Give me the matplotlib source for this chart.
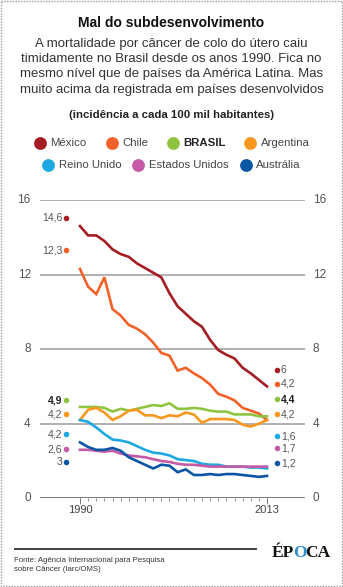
import numpy as np
import matplotlib.pyplot as plt
from matplotlib.patches import Rectangle

plt.rcParams['font.family'] = ['Liberation Sans', 'DejaVu Sans']

years = np.arange(1990, 2014)

mexico = [14.6, 14.1, 14.1, 13.8, 13.35, 13.1, 12.95, 12.6, 12.35, 12.1, 11.85, 11.0,
          10.3, 9.9, 9.5, 9.2, 8.5, 7.95, 7.7, 7.5, 7.0, 6.7, 6.35, 6.0]
chile = [12.3, 11.35, 10.95, 11.85, 10.15, 9.8, 9.3, 9.1, 8.8, 8.35, 7.8, 7.65,
         6.85, 7.0, 6.7, 6.45, 6.1, 5.6, 5.45, 5.25, 4.85, 4.7, 4.55, 4.2]
brasil = [4.9, 4.9, 4.9, 4.85, 4.65, 4.8, 4.7, 4.8, 4.9, 5.0, 4.95, 5.1,
          4.8, 4.8, 4.85, 4.8, 4.7, 4.65, 4.65, 4.5, 4.5, 4.5, 4.4, 4.4]
argentina = [4.2, 4.75, 4.85, 4.6, 4.2, 4.4, 4.7, 4.75, 4.45, 4.45, 4.3, 4.45,
             4.4, 4.6, 4.5, 4.05, 4.25, 4.25, 4.25, 4.2, 3.95, 3.85, 4.0, 4.2]
reino_unido = [4.2, 4.1, 3.8, 3.45, 3.15, 3.1, 3.0, 2.8, 2.6, 2.45, 2.4, 2.3,
               2.1, 2.05, 2.0, 1.85, 1.8, 1.8, 1.7, 1.7, 1.7, 1.65, 1.65, 1.6]
estados_unidos = [2.6, 2.6, 2.55, 2.5, 2.55, 2.4, 2.3, 2.25, 2.2, 2.1, 2.0, 1.95,
                  1.85, 1.8, 1.8, 1.75, 1.7, 1.7, 1.7, 1.7, 1.7, 1.7, 1.7, 1.7]
australia = [3.0, 2.75, 2.6, 2.6, 2.7, 2.55, 2.2, 2.0, 1.8, 1.6, 1.8, 1.75,
             1.4, 1.55, 1.25, 1.25, 1.3, 1.25, 1.3, 1.3, 1.25, 1.2, 1.15, 1.2]

names = ['México', 'Chile', 'BRASIL', 'Argentina', 'Reino Unido', 'Estados Unidos', 'Austrália']
series = [mexico, chile, brasil, argentina, reino_unido, estados_unidos, australia]
colors = ['#a51d24', '#f26127', '#8fc440', '#f8971f', '#1ca9e2', '#c75aa6', '#0b56a4']
first_txt = ['14,6', '12,3', '4,9', '4,2', '4,2', '2,6', '3']
last_txt = ['6', '4,2', '4,4', '4,2', '1,6', '1,7', '1,2']
# label rows are spread apart so they don't collide
left_rows = [15.05, 13.3, 5.25, 4.5, 3.43, 2.63, 1.94]
right_rows = [6.9, 6.15, 5.3, 4.5, 3.33, 2.69, 1.88]
yticks = [0, 4, 8, 12, 16]

W, H = 343, 587
fig = plt.figure(figsize=(W / 100, H / 100), dpi=100)
fig.patch.set_facecolor('white')

# overlay in pixel units for the headline, legend and footer
ov = fig.add_axes([0, 0, 1, 1], zorder=0)
ov.set_xlim(0, W)
ov.set_ylim(H, 0)
ov.axis('off')
ov.add_patch(Rectangle((1, 1), W - 2.5, H - 2.5, fill=False, ec='#9a9a9a', lw=1.0, ls=(0, (1, 1))))

ov.text(171.5, 23, 'Mal do subdesenvolvimento', ha='center', va='center',
        fontsize=10, fontweight='bold', color='#111')
sub = ['A mortalidade por câncer de colo do útero caiu',
       'timidamente no Brasil desde os anos 1990. Fica no',
       'mesmo nível que de países da América Latina. Mas',
       'muito acima da registrada em países desenvolvidos']
for i, line in enumerate(sub):
    ov.text(171.5, 44 + 15.2 * i, line, ha='center', va='center', fontsize=9.5, color='#333')
ov.text(171.5, 114.5, '(incidência a cada 100 mil habitantes)', ha='center', va='center',
        fontsize=8.2, fontweight='bold', color='#222')

# legend
leg_dot = [(39.5, 142.7), (111.7, 142.7), (172.7, 142.7), (250, 142.7),
           (48.3, 165), (138.3, 165), (245.7, 165)]
for (x, y), name, c in zip(leg_dot, names, colors):
    ov.scatter([x], [y], s=85, color=c, lw=0)
    ov.text(x + 10.5, y, name, ha='left', va='center', fontsize=8.2,
            color='#222' if name == 'BRASIL' else '#444',
            fontweight='bold' if name == 'BRASIL' else 'normal')

# footer
ov.plot([14, 257], [549, 549], color='#333', lw=1.3, solid_capstyle='butt')
ov.text(14, 560, 'Fonte: Agência Internacional para Pesquisa', ha='left', va='center',
        fontsize=5.6, color='#333')
ov.text(14, 569.5, 'sobre Câncer (Iarc/OMS)', ha='left', va='center', fontsize=5.6, color='#333')
logo = dict(va='baseline', fontsize=12.5, fontweight='bold', family='Liberation Serif')
ov.text(293.5, 557, 'ÉP', ha='right', color='#111', **logo)
ov.text(299.5, 557, 'O', ha='center', color='#2b8fd0', **logo)
ov.text(305.5, 557, 'CA', ha='left', color='#111', **logo)

# chart area
ax = fig.add_axes([40 / W, 1 - 498.3 / H, 265 / W, 298.3 / H], zorder=1)
ax.patch.set_alpha(0)
ax.set_xlim(1985.08, 2017.67)
ax.set_ylim(0, 16)
ax.axis('off')

for v in yticks:
    if v == 0:
        ax.axhline(v, color='#555', lw=1.8, zorder=1)
    else:
        ax.axhline(v, color='#a3a3a3', lw=1.2, zorder=1)
    ax.text(-0.035, v, str(v), transform=ax.get_yaxis_transform(), ha='right', va='center',
            fontsize=8.5, color='#555')
    ax.text(1.03, v, str(v), transform=ax.get_yaxis_transform(), ha='left', va='center',
            fontsize=8.5, color='#555')

# year ticks under the base line
ax.vlines(years, -0.17, 0, color='#777', lw=0.6, clip_on=False)
ax.vlines([years[0], years[-1]], -0.32, 0, color='#777', lw=0.7, clip_on=False)
for yr in (years[0], years[-1]):
    ax.text(yr, -0.62, str(yr), ha='center', va='center', fontsize=8, color='#444')

for vals, c in zip(series, colors):
    ax.plot(years, vals, color=c, lw=1.9, solid_joinstyle='miter', zorder=3)

for i, (vals, c) in enumerate(zip(series, colors)):
    bold = 'bold' if names[i] == 'BRASIL' else 'normal'
    tc = '#222' if names[i] == 'BRASIL' else '#555'
    ax.scatter([1988.28], [left_rows[i]], s=16, color=c, lw=0, clip_on=False, zorder=4)
    ax.text(1987.8, left_rows[i], first_txt[i], ha='right', va='center', fontsize=7.5,
            color=tc, fontweight=bold)
    ax.scatter([2014.23], [right_rows[i]], s=16, color=c, lw=0, clip_on=False, zorder=4)
    ax.text(2014.7, right_rows[i], last_txt[i], ha='left', va='center', fontsize=7.5,
            color=tc, fontweight=bold)

fig.savefig('out.png', dpi=100)
